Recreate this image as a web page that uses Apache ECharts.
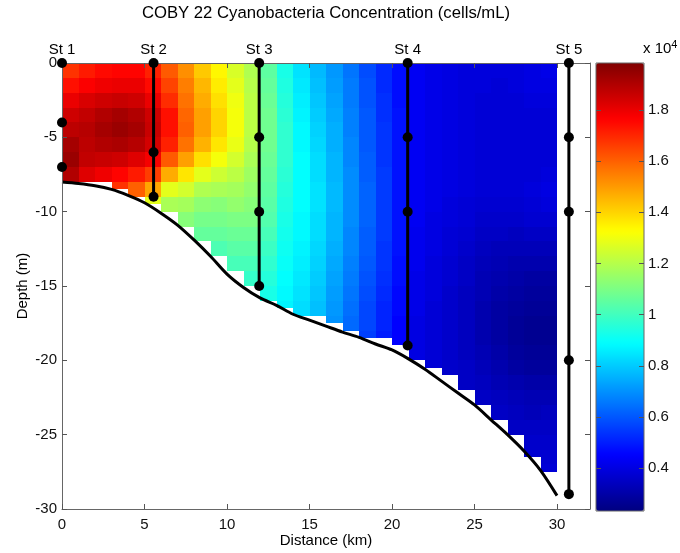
<!DOCTYPE html>
<html><head><meta charset="utf-8">
<script src="https://cdn.jsdelivr.net/npm/echarts@6/dist/echarts.min.js"></script>
<style>html,body{margin:0;padding:0;background:#fff}#c{width:680px;height:553px}</style>
</head><body><div id="c"></div>
<script>
// ---------- data ----------
const titleText = 'COBY 22 Cyanobacteria Concentration (cells/mL)';
const xTicks = [0, 5, 10, 15, 20, 25, 30];
const yTicks = [0, -5, -10, -15, -20, -25, -30];
const cbarTicks = [0.4, 0.6, 0.8, 1, 1.2, 1.4, 1.6, 1.8];   // x10^4 cells/mL
const cbarMin = 0.231, cbarMax = 1.984;                     // x10^4 cells/mL

// grid cells: 1 km wide columns, 1 m deep rows; columns end at the sea-floor step
const cellLeftKm = [0,1,2,3,4,5,6,7,8,9,10,11,12,13,14,15,16,17,18,19,20,21,22,23,24,25,26,27,28,29];
const cellFloorDepth = [8,8,8,8.5,9,9.5,10,11,12,13,14,15,16,16.5,17,17,17.5,18,18.5,18.5,19,20,20.5,21,22,23,24,25,26.5,27.5];
// concentration (x10^4 cells/mL), one list per column, surface downward
const conc = [
  [1.68,1.74,1.80,1.85,1.88,1.92,1.94,1.90],
  [1.72,1.77,1.83,1.87,1.89,1.88,1.87,1.82],
  [1.75,1.79,1.85,1.90,1.92,1.90,1.86,1.79],
  [1.76,1.80,1.86,1.92,1.94,1.91,1.85,1.76,1.68],
  [1.76,1.80,1.85,1.90,1.92,1.89,1.82,1.72,1.60],
  [1.71,1.75,1.80,1.85,1.86,1.84,1.78,1.66,1.48,1.28],
  [1.61,1.65,1.69,1.74,1.74,1.71,1.61,1.47,1.28,1.18],
  [1.52,1.55,1.57,1.59,1.60,1.57,1.49,1.37,1.25,1.17,1.12],
  [1.42,1.45,1.47,1.49,1.49,1.46,1.38,1.28,1.19,1.13,1.09,1.06],
  [1.34,1.36,1.38,1.40,1.40,1.37,1.31,1.24,1.18,1.12,1.09,1.06,1.02],
  [1.26,1.28,1.30,1.31,1.31,1.29,1.25,1.21,1.17,1.14,1.10,1.07,1.04,1.01],
  [1.19,1.20,1.21,1.21,1.21,1.20,1.18,1.16,1.14,1.12,1.10,1.07,1.04,1.01,0.98],
  [1.05,1.06,1.07,1.08,1.08,1.08,1.07,1.06,1.05,1.04,1.03,1.01,0.99,0.97,0.95,0.93],
  [0.93,0.94,0.95,0.96,0.97,0.97,0.97,0.96,0.95,0.94,0.93,0.92,0.91,0.90,0.89,0.88,0.87],
  [0.84,0.85,0.86,0.87,0.88,0.88,0.89,0.89,0.89,0.89,0.88,0.88,0.87,0.86,0.85,0.84,0.83],
  [0.77,0.78,0.79,0.80,0.81,0.82,0.83,0.83,0.84,0.84,0.83,0.83,0.82,0.81,0.80,0.79,0.78],
  [0.71,0.72,0.73,0.74,0.75,0.75,0.76,0.76,0.77,0.77,0.76,0.76,0.75,0.74,0.73,0.72,0.71,0.70],
  [0.65,0.66,0.66,0.67,0.67,0.68,0.68,0.69,0.69,0.69,0.69,0.68,0.68,0.67,0.66,0.65,0.64,0.63],
  [0.58,0.59,0.59,0.60,0.60,0.60,0.61,0.61,0.62,0.62,0.62,0.61,0.61,0.60,0.59,0.58,0.57,0.57,0.56],
  [0.52,0.52,0.53,0.53,0.54,0.54,0.54,0.55,0.55,0.55,0.55,0.55,0.54,0.54,0.53,0.52,0.51,0.51,0.50],
  [0.47,0.47,0.47,0.48,0.48,0.48,0.48,0.48,0.48,0.48,0.48,0.48,0.48,0.47,0.47,0.46,0.46,0.45,0.45],
  [0.43,0.43,0.43,0.43,0.43,0.43,0.43,0.43,0.43,0.43,0.43,0.42,0.42,0.42,0.41,0.41,0.41,0.40,0.40,0.40],
  [0.41,0.41,0.41,0.41,0.41,0.41,0.41,0.41,0.41,0.41,0.40,0.40,0.40,0.39,0.39,0.39,0.38,0.38,0.38,0.38,0.38],
  [0.40,0.40,0.40,0.40,0.40,0.40,0.40,0.40,0.40,0.39,0.39,0.38,0.38,0.37,0.37,0.36,0.36,0.36,0.36,0.36,0.36],
  [0.39,0.39,0.39,0.39,0.39,0.39,0.39,0.39,0.39,0.38,0.38,0.37,0.36,0.35,0.35,0.34,0.34,0.34,0.34,0.34,0.35,0.35],
  [0.39,0.39,0.38,0.38,0.38,0.38,0.38,0.38,0.38,0.37,0.36,0.35,0.34,0.33,0.32,0.32,0.31,0.31,0.31,0.32,0.33,0.34,0.35],
  [0.39,0.38,0.38,0.38,0.38,0.38,0.38,0.38,0.38,0.37,0.36,0.35,0.33,0.32,0.31,0.30,0.29,0.29,0.29,0.30,0.31,0.32,0.34,0.35],
  [0.39,0.39,0.38,0.38,0.38,0.38,0.38,0.38,0.38,0.37,0.36,0.34,0.33,0.31,0.30,0.29,0.28,0.27,0.27,0.28,0.29,0.31,0.33,0.34,0.35],
  [0.40,0.40,0.39,0.38,0.38,0.38,0.38,0.38,0.39,0.38,0.37,0.35,0.33,0.31,0.29,0.28,0.27,0.26,0.26,0.27,0.28,0.30,0.32,0.33,0.35,0.36,0.37],
  [0.41,0.40,0.39,0.38,0.38,0.38,0.38,0.39,0.40,0.39,0.37,0.35,0.33,0.31,0.29,0.28,0.27,0.26,0.26,0.27,0.28,0.30,0.32,0.34,0.35,0.36,0.37,0.38]
];

// stations
const stationNames = ['St 1', 'St 2', 'St 3', 'St 4', 'St 5'];
const stationKm = [0, 5.55, 11.95, 20.95, 30.72];
const stationSampleDepths = [[0,-4,-7], [0,-6,-9], [0,-5,-10,-15], [0,-5,-10,-19], [0,-5,-10,-20,-29]];
const castLineShown = [false, true, true, true, true];

// sea-floor profile
const floorKm =    [0,1,2,3,4,5,6,7,8,9,10,11,12,13,14,15,16,17,18,19,20,21,22,23,24,25,26,27,28,29,30];
const floorDepth = [-8.0,-8.1,-8.25,-8.5,-8.9,-9.4,-10.1,-10.9,-11.9,-13.0,-14.2,-15.1,-15.8,-16.3,-16.9,-17.3,-17.7,-18.1,-18.45,-18.9,-19.3,-19.9,-20.6,-21.4,-22.2,-23.0,-24.0,-25.0,-26.1,-27.4,-29.1];

// ---------- build ----------
const FONT = 'Liberation Sans, Arial, sans-serif';
const jet = ['#000080','#0000ff','#0080ff','#00ffff','#80ff80','#ffff00','#ff8000','#ff0000','#800000'];
const cellWidthKm = 1, cellHeightM = 1;
const axisCol = '#666', tickCol = '#555';

const cells = [];
cellLeftKm.forEach((x0, c) => {
  conc[c].forEach((v, r) => {
    const top = r * cellHeightM;
    if (top >= cellFloorDepth[c]) return;
    const bot = Math.min(top + cellHeightM, cellFloorDepth[c]);
    cells.push([x0, x0 + cellWidthKm, -top, -bot, v]);
  });
});

const series = [];
series.push({
  type: 'custom', xAxisIndex: 0, yAxisIndex: 0, z: 1, clip: true, silent: true,
  encode: { x: [0, 1], y: [2, 3] },
  data: cells,
  renderItem: function (params, api) {
    const p0 = api.coord([api.value(0), api.value(2)]);
    const p1 = api.coord([api.value(1), api.value(3)]);
    const x = Math.round(p0[0]), y = Math.round(p0[1]);
    const col = api.visual('color');
    return { type: 'rect',
      shape: { x: x, y: y, width: Math.round(p1[0]) - x, height: Math.round(p1[1]) - y },
      style: { fill: col, stroke: null } };
  }
});
series.push({
  type: 'line', xAxisIndex: 0, yAxisIndex: 0, z: 3, silent: true,
  data: floorKm.map((k, i) => [k, floorDepth[i]]),
  smooth: 0.3, showSymbol: false, symbol: 'none',
  lineStyle: { color: '#000', width: 3 }
});
stationKm.forEach((k, i) => {
  if (!castLineShown[i]) return;
  const d = stationSampleDepths[i];
  series.push({
    type: 'line', xAxisIndex: 0, yAxisIndex: 0, z: 4, silent: true,
    data: [[k, d[0]], [k, d[d.length - 1]]], symbol: 'none',
    lineStyle: { color: '#000', width: 3 }
  });
});
const pts = [];
stationKm.forEach((k, i) => {
  stationSampleDepths[i].forEach((d, j) => {
    pts.push({ value: [k, d], label: { show: j === 0, formatter: stationNames[i] } });
  });
});
series.push({
  type: 'scatter', xAxisIndex: 0, yAxisIndex: 0, z: 12, silent: true, clip: false,
  data: pts, symbol: 'circle', symbolSize: 10,
  itemStyle: { color: '#000', opacity: 1 },
  label: { position: 'top', distance: 1, color: '#000', fontFamily: FONT, fontSize: 15 }
});
// colorbar tick marks on both edges, placed through the colorbar's own scale
series.push({
  type: 'custom', xAxisIndex: 2, yAxisIndex: 2, z: 20, silent: true, clip: false,
  encode: { y: 0 },
  data: cbarTicks.map(v => [v]),
  renderItem: function (params, api) {
    const l = api.coord([0, api.value(0)]);
    const r = api.coord([1, api.value(0)]);
    const y = Math.round(l[1]) + 0.5;
    return { type: 'group', children: [
      { type: 'line', shape: { x1: l[0], y1: y, x2: l[0] + 5, y2: y }, style: { stroke: tickCol, lineWidth: 1 } },
      { type: 'line', shape: { x1: r[0] - 5, y1: y, x2: r[0], y2: y }, style: { stroke: tickCol, lineWidth: 1 } }
    ] };
  }
});

const baseAxis = {
  splitLine: { show: false },
  axisLine: { show: true, onZero: false, lineStyle: { color: axisCol, width: 1 } },
  axisLabel: { color: '#111', fontFamily: FONT, fontSize: 15 },
  z: 10
};
function ticks(vals) {
  return { show: true, inside: true, length: 5, customValues: vals, lineStyle: { color: tickCol, width: 1 } };
}

const option = {
  backgroundColor: '#fff',
  animation: false,
  title: [
    { text: titleText, left: 326, top: 5, textAlign: 'center', padding: 0,
      textStyle: { fontFamily: FONT, fontSize: 16.7, fontWeight: 'normal', color: '#000' } },
    { text: 'x 10{s|4}', left: 643, top: 39, padding: 0,
      textStyle: { fontFamily: FONT, fontSize: 15, fontWeight: 'normal', color: '#000',
        rich: { s: { fontFamily: FONT, fontSize: 11, color: '#000', verticalAlign: 'top', padding: [0, 0, 9, 0] } } } }
  ],
  grid: [
    { left: 62, top: 63, width: 528, height: 448, show: false },
    { left: 596, top: 63, width: 48, height: 448, show: true, borderColor: axisCol, borderWidth: 1, backgroundColor: 'transparent', z: 6 }
  ],
  visualMap: {
    type: 'continuous', show: true, seriesIndex: 0, dimension: 4,
    min: cbarMin, max: cbarMax, calculable: false, hoverLink: false,
    inRange: { color: jet }, text: null, showLabel: false,
    orient: 'vertical', left: 596, top: 63, itemWidth: 48, itemHeight: 448, padding: 0, z: 1
  },
  xAxis: [
    Object.assign({}, baseAxis, { gridIndex: 0, type: 'value', position: 'bottom', min: 0, max: 32,
      axisTick: ticks(xTicks),
      axisLabel: Object.assign({}, baseAxis.axisLabel, { customValues: xTicks, margin: 8 }),
      name: 'Distance (km)', nameLocation: 'middle', nameGap: 24, nameMoveOverlap: false,
      nameTextStyle: { fontFamily: FONT, fontSize: 15, color: '#000' } }),
    Object.assign({}, baseAxis, { gridIndex: 0, type: 'value', position: 'top', min: 0, max: 32,
      axisTick: ticks(xTicks),
      axisLabel: { show: false } }),
    { gridIndex: 1, type: 'value', min: 0, max: 1, show: false }
  ],
  yAxis: [
    Object.assign({}, baseAxis, { gridIndex: 0, type: 'value', position: 'left', min: -30, max: 0,
      axisTick: ticks(yTicks),
      axisLabel: Object.assign({}, baseAxis.axisLabel, { customValues: yTicks, margin: 5 }),
      name: 'Depth (m)', nameLocation: 'middle', nameGap: 32, nameRotate: 90, nameMoveOverlap: false,
      nameTextStyle: { fontFamily: FONT, fontSize: 15, color: '#000' } }),
    Object.assign({}, baseAxis, { gridIndex: 0, type: 'value', position: 'right', min: -30, max: 0,
      axisTick: ticks(yTicks),
      axisLabel: { show: false } }),
    Object.assign({}, baseAxis, { gridIndex: 1, type: 'value', position: 'right', min: cbarMin, max: cbarMax,
      axisLine: { show: false },
      axisTick: { show: false },
      axisLabel: Object.assign({}, baseAxis.axisLabel, { customValues: cbarTicks, margin: 4,
        formatter: v => String(Math.round(v * 10) / 10) }) })
  ],
  series: series
};

const chart = echarts.init(document.getElementById('c'), null, { renderer: 'canvas' });
chart.setOption(option);
</script>
</body></html>
